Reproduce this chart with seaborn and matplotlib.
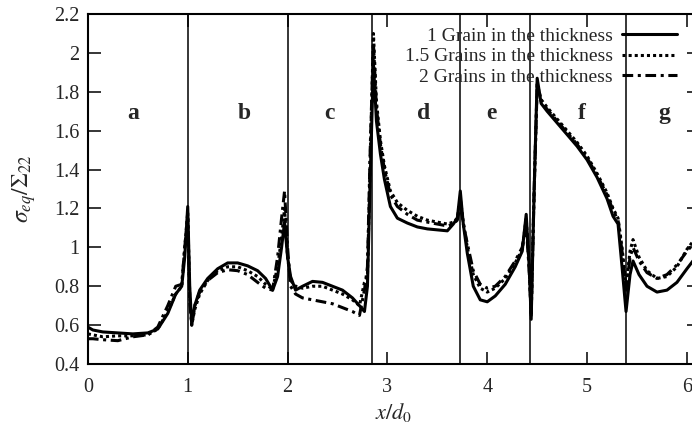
import numpy as np
import pandas as pd
import matplotlib
matplotlib.use("Agg")
import matplotlib.pyplot as plt
import seaborn as sns

# positions along the path (x/d0)
x_pos = [0.00, 0.05, 0.15, 0.30, 0.45, 0.60, 0.70, 0.80, 0.88, 0.94,
         0.97, 1.00, 1.02, 1.04, 1.07, 1.12, 1.20, 1.30, 1.40, 1.50,
         1.60, 1.70, 1.78, 1.85, 1.90, 1.94, 1.97, 2.00, 2.03, 2.08,
         2.15, 2.25, 2.35, 2.45, 2.55, 2.65, 2.72, 2.77, 2.80, 2.83,
         2.86, 2.89, 2.93, 2.97, 3.03, 3.10, 3.20, 3.30, 3.40, 3.50,
         3.60, 3.66, 3.70, 3.73, 3.76, 3.80, 3.86, 3.93, 4.00, 4.08,
         4.18, 4.28, 4.35, 4.39, 4.42, 4.44, 4.47, 4.50, 4.54, 4.60,
         4.70, 4.80, 4.90, 5.00, 5.10, 5.20, 5.26, 5.31, 5.35, 5.39,
         5.43, 5.46, 5.52, 5.60, 5.70, 5.80, 5.90, 6.00, 6.12]

# sigma_eq / Sigma_22, 1 grain in the thickness
one_grain = [0.59, 0.575, 0.565, 0.56, 0.555, 0.56, 0.58, 0.66, 0.76, 0.80,
             0.95, 1.21, 0.80, 0.60, 0.70, 0.78, 0.84, 0.89, 0.92, 0.92,
             0.905, 0.88, 0.84, 0.78, 0.85, 1.00, 1.13, 0.95, 0.85, 0.78,
             0.80, 0.825, 0.82, 0.80, 0.78, 0.74, 0.70, 0.67, 0.80, 1.40,
             1.95, 1.65, 1.48, 1.35, 1.21, 1.15, 1.125, 1.105, 1.095, 1.09,
             1.085, 1.12, 1.15, 1.29, 1.12, 0.97, 0.80, 0.73, 0.72, 0.75,
             0.81, 0.90, 0.98, 1.17, 0.90, 0.63, 1.30, 1.87, 1.74, 1.70,
             1.64, 1.58, 1.52, 1.45, 1.36, 1.25, 1.16, 1.12, 0.90, 0.67,
             0.86, 0.93, 0.86, 0.80, 0.77, 0.78, 0.82, 0.89, 0.97]

# 1.5 grains in the thickness
one_half_grain = [0.555, 0.55, 0.54, 0.545, 0.545, 0.55, 0.58, 0.67, 0.76, 0.80,
                  1.00, 1.18, 0.75, 0.60, 0.68, 0.76, 0.83, 0.88, 0.90, 0.90,
                  0.88, 0.85, 0.81, 0.785, 0.90, 1.05, 1.20, 0.95, 0.83, 0.80,
                  0.79, 0.80, 0.80, 0.78, 0.76, 0.73, 0.70, 0.82, 0.85, 1.50,
                  2.10, 1.75, 1.55, 1.42, 1.29, 1.23, 1.19, 1.16, 1.14, 1.13,
                  1.12, 1.13, 1.15, 1.25, 1.13, 1.00, 0.86, 0.79, 0.77, 0.79,
                  0.84, 0.92, 0.99, 1.15, 0.90, 0.65, 1.30, 1.84, 1.76, 1.72,
                  1.66, 1.60, 1.54, 1.47, 1.38, 1.28, 1.20, 1.15, 1.00, 0.80,
                  0.98, 1.04, 0.95, 0.88, 0.84, 0.85, 0.90, 0.99, 1.07]

# 2 grains in the thickness
two_grain = [0.53, 0.53, 0.525, 0.52, 0.54, 0.55, 0.59, 0.70, 0.80, 0.81,
             1.00, 1.15, 0.72, 0.61, 0.70, 0.77, 0.83, 0.87, 0.885, 0.88,
             0.86, 0.82, 0.79, 0.78, 0.95, 1.15, 1.29, 1.00, 0.80, 0.76,
             0.74, 0.73, 0.72, 0.71, 0.69, 0.67, 0.65, 0.78, 0.90, 1.55,
             2.05, 1.72, 1.53, 1.40, 1.27, 1.21, 1.17, 1.14, 1.13, 1.12,
             1.11, 1.12, 1.14, 1.22, 1.12, 1.02, 0.88, 0.81, 0.79, 0.80,
             0.85, 0.93, 1.00, 1.12, 0.88, 0.66, 1.30, 1.83, 1.75, 1.71,
             1.65, 1.59, 1.53, 1.46, 1.37, 1.27, 1.19, 1.14, 0.98, 0.78,
             0.95, 1.00, 0.93, 0.87, 0.84, 0.86, 0.91, 0.98, 1.05]

# grain boundaries and grain names
boundaries = [1.0, 2.0, 2.85, 3.73, 4.43, 5.39]
grain_names = ["a", "b", "c", "d", "e", "f", "g"]
grain_name_x = [0.45, 1.57, 2.42, 3.36, 4.04, 4.95, 5.77]

series_labels = ["1 Grain in the thickness",
                 "1.5 Grains in the thickness",
                 "2 Grains in the thickness"]

sns.set_style("ticks")
plt.rcParams["font.family"] = ["Liberation Serif", "DejaVu Serif"]
plt.rcParams["mathtext.fontset"] = "stix"

fig = plt.figure(figsize=(6.92, 4.26), dpi=100)
# the right frame sits just outside the picture, as in the source
ax = fig.add_axes([0.127, 0.1455, 0.883, 0.8215])

styles = ["-", (0, (1.0, 1.0)), (0, (3.5, 1.5, 1.0, 1.5))]
for vals, lab, ls in zip([one_grain, one_half_grain, two_grain], series_labels, styles):
    sns.lineplot(x=x_pos, y=vals, ax=ax, color="black", linewidth=2.2,
                 linestyle=ls, label=lab, sort=False, estimator=None)

for b in boundaries:
    ax.axvline(b, color="black", linewidth=1.1)

for name, gx in zip(grain_names, grain_name_x):
    ax.text(gx, 1.69, name, ha="center", va="center", fontsize=17,
            fontweight="bold")

ax.set_xlim(0, 6.12)
ax.set_ylim(0.4, 2.2)
ax.set_xticks(range(7))
yt = np.round(np.arange(0.4, 2.21, 0.2), 1)
ax.set_yticks(yt)
ax.set_yticklabels([("%g" % v) for v in yt])
ax.tick_params(direction="in", length=9, width=1.3, top=True, right=True,
               labelsize=14.5)
ax.tick_params(axis="x", pad=10)
ax.tick_params(axis="y", pad=6)
for s in ["left", "bottom", "top", "right"]:
    ax.spines[s].set_linewidth(1.5)
    ax.spines[s].set_color("black")

ax.set_xlabel(r"$x/d_0$", fontsize=16, labelpad=3)
ax.set_ylabel(r"$\sigma_{eq}/\Sigma_{22}$", fontsize=17, labelpad=12)

leg = ax.legend(loc="upper right", bbox_to_anchor=(0.978, 0.935),
                bbox_transform=fig.transFigure, frameon=False,
                markerfirst=False, handlelength=2.8, handletextpad=0.5,
                labelspacing=0.13, fontsize=14, borderaxespad=0, borderpad=0)

fig.savefig("out.png", dpi=100)
